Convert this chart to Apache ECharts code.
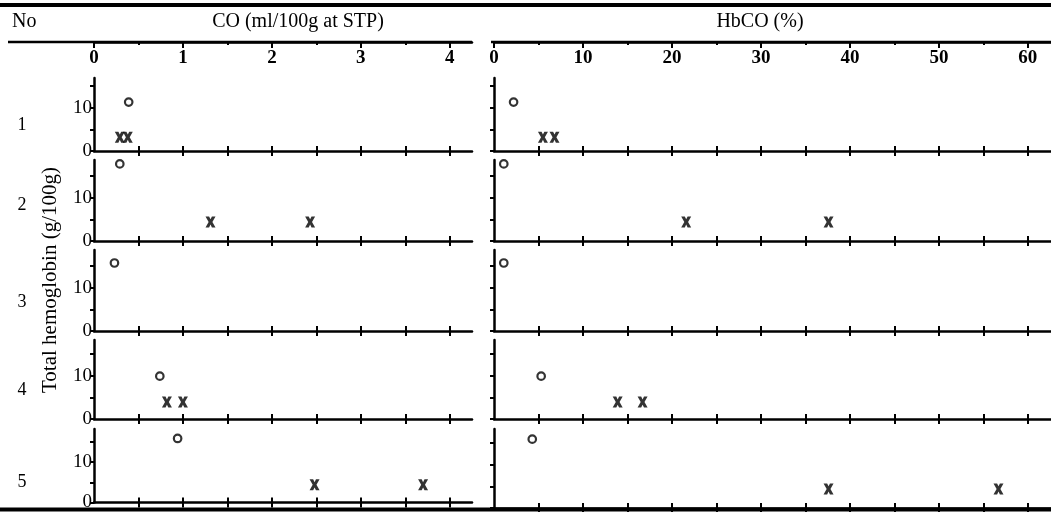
<!DOCTYPE html>
<html>
<head>
<meta charset="utf-8">
<script src="https://cdn.jsdelivr.net/npm/echarts@6/dist/echarts.min.js"></script>
<style>html,body{margin:0;padding:0;background:#fff}#c{width:1051px;height:512px}</style>
</head>
<body>
<div id="c"></div>
<script>
// ---- data ----
const rowLabels = ['1', '2', '3', '4', '5'];
// CO (ml/100g at STP) vs total hemoglobin (g/100g)
const coCircle = [[0.39, 11.3], [0.29, 17.8], [0.23, 15.7], [0.74, 9.9], [0.94, 15.9]];
const coCross = [
  [[0.29, 3.2], [0.38, 3.2]],
  [[1.31, 4.4], [2.43, 4.4]],
  [],
  [[0.82, 3.9], [1.00, 3.9]],
  [[2.48, 4.4], [3.70, 4.4]]
];
// HbCO (%) vs total hemoglobin (g/100g)
const hbCircle = [[2.2, 11.3], [1.1, 17.8], [1.1, 15.7], [5.3, 9.9], [4.3, 15.9]];
const hbCross = [
  [[5.5, 3.2], [6.8, 3.2]],
  [[21.6, 4.4], [37.6, 4.4]],
  [],
  [[13.9, 3.9], [16.7, 3.9]],
  [[37.6, 4.4], [56.7, 4.4]]
];
const coTickLabels = [0, 1, 2, 3, 4];
const coMinorTicks = [0.5, 1.5, 2.5, 3.5];
const coRowTicks = [0.5, 1, 1.5, 2, 2.5, 3, 3.5, 4];
const hbTickLabels = [0, 10, 20, 30, 40, 50, 60];
const hbMinorTicks = [5, 15, 25, 35, 45, 55];
const hbRowTicks = [5, 10, 15, 20, 25, 30, 35, 40, 45, 50, 55, 60];
const yTicks = [0, 5, 10, 15];
const yTickLabels = [0, 10];
const headerNo = 'No';
const headerCO = 'CO (ml/100g at STP)';
const headerHb = 'HbCO (%)';
const yTitle = 'Total hemoglobin (g/100g)';

// ---- layout ----
const FONT = '"Liberation Serif", "DejaVu Serif", serif';
const INK = '#000';
const rowTop = [78, 160, 250, 340, 429];
const rowBot = [151, 241, 331, 419, 508];
const PXU = 4.33; // px per g/100g
const panels = [
  {left: 94, width: 378, max: 4.25, rowTicks: coRowTicks, major: coTickLabels, minor: coMinorTicks, circ: coCircle, cross: coCross, ylab: true},
  {left: 494, width: 557, max: 62.6, rowTicks: hbRowTicks, major: hbTickLabels, minor: hbMinorTicks, circ: hbCircle, cross: hbCross, ylab: false}
];
const crossPath = 'path://M0,0 L3.6,0 L5,2.6 L6.4,0 L10,0 L6.9,5 L10,10 L6.4,10 L5,7.4 L3.6,10 L0,10 L3.1,5 Z';

const grid = [], xAxis = [], yAxis = [], series = [];

panels.forEach(p => {
  const gi = grid.length;
  grid.push({left: p.left, width: p.width, top: 41, height: 1});
  yAxis.push({gridIndex: gi, type: 'value', show: false, min: 0, max: 1});
  xAxis.push({
    gridIndex: gi, type: 'value', min: 0, max: p.max, position: 'bottom',
    axisLine: {show: true, lineStyle: {color: INK, width: 2.5}},
    axisTick: {show: true, length: 6, customValues: p.major, lineStyle: {color: INK, width: 2}},
    axisLabel: {show: true, customValues: p.major, margin: 7, color: INK, fontFamily: FONT, fontSize: 19, fontWeight: 'bold'},
    splitLine: {show: false}
  });
  xAxis.push({
    gridIndex: gi, type: 'value', min: 0, max: p.max, position: 'bottom',
    axisLine: {show: false},
    axisTick: {show: true, length: 3, customValues: p.minor, lineStyle: {color: INK, width: 2}},
    axisLabel: {show: false}, splitLine: {show: false}
  });
});

for (let r = 0; r < 5; r++) {
  panels.forEach(p => {
    const gi = grid.length;
    const h = rowBot[r] - rowTop[r];
    grid.push({left: p.left, width: p.width, top: rowTop[r], height: h});
    const yi = yAxis.length;
    yAxis.push({
      gridIndex: gi, type: 'value', min: 0, max: h / PXU,
      axisLine: {show: true, lineStyle: {color: INK, width: 2.5}},
      axisTick: {show: true, length: 4, customValues: yTicks, lineStyle: {color: INK, width: 2}},
      axisLabel: {show: p.ylab, customValues: yTickLabels, margin: 2, color: INK, fontFamily: FONT, fontSize: 19},
      splitLine: {show: false}
    });
    const xi = xAxis.length;
    xAxis.push({
      gridIndex: gi, type: 'value', min: 0, max: p.max, position: 'bottom',
      axisLine: {show: true, onZero: false, lineStyle: {color: INK, width: 2.5}},
      axisTick: {show: true, length: 5, customValues: p.rowTicks, lineStyle: {color: INK, width: 2}},
      axisLabel: {show: false}, splitLine: {show: false}
    });
    xAxis.push({
      gridIndex: gi, type: 'value', min: 0, max: p.max, position: 'bottom',
      axisLine: {show: false, onZero: false},
      axisTick: {show: true, inside: true, length: 5, customValues: p.rowTicks, lineStyle: {color: INK, width: 2}},
      axisLabel: {show: false}, splitLine: {show: false}
    });
    series.push({
      type: 'scatter', xAxisIndex: xi, yAxisIndex: yi, data: [p.circ[r]],
      symbol: 'circle', symbolSize: 7.5,
      itemStyle: {color: '#fff', borderColor: INK, borderWidth: 2.2}, silent: true
    });
    series.push({
      type: 'scatter', xAxisIndex: xi, yAxisIndex: yi, data: p.cross[r],
      symbol: crossPath, symbolSize: [10, 11],
      itemStyle: {color: INK}, silent: true
    });
  });
}

const graphic = [
  {type: 'line', shape: {x1: 0, y1: 5, x2: 1051, y2: 5}, style: {stroke: INK, lineWidth: 4}},
  {type: 'line', shape: {x1: 8, y1: 42, x2: 472, y2: 42}, style: {stroke: INK, lineWidth: 2.5}},
  {type: 'line', shape: {x1: 491, y1: 42, x2: 1051, y2: 42}, style: {stroke: INK, lineWidth: 2.5}},
  {type: 'line', shape: {x1: 0, y1: 509.5, x2: 1051, y2: 509.5}, style: {stroke: INK, lineWidth: 4}},
  {type: 'text', x: 12, y: 22, style: {text: headerNo, font: '20px ' + FONT, fill: INK, textAlign: 'left', textVerticalAlign: 'middle'}},
  {type: 'text', x: 298, y: 22, style: {text: headerCO, font: '20px ' + FONT, fill: INK, textAlign: 'center', textVerticalAlign: 'middle'}},
  {type: 'text', x: 760, y: 22, style: {text: headerHb, font: '20px ' + FONT, fill: INK, textAlign: 'center', textVerticalAlign: 'middle'}},
  {type: 'text', x: 50, y: 280, rotation: Math.PI / 2, style: {text: yTitle, font: '21px ' + FONT, fill: INK, textAlign: 'center', textVerticalAlign: 'middle'}}
];
const rowLabelY = [125, 205, 302, 390, 482];
rowLabels.forEach((t, i) => {
  graphic.push({type: 'text', x: 22, y: rowLabelY[i], style: {text: t, font: '18px ' + FONT, fill: INK, textAlign: 'center', textVerticalAlign: 'middle'}});
});

const chart = echarts.init(document.getElementById('c'));
chart.setOption({
  backgroundColor: '#fff',
  animation: false,
  grid, xAxis, yAxis, series, graphic
});
</script>
</body>
</html>
